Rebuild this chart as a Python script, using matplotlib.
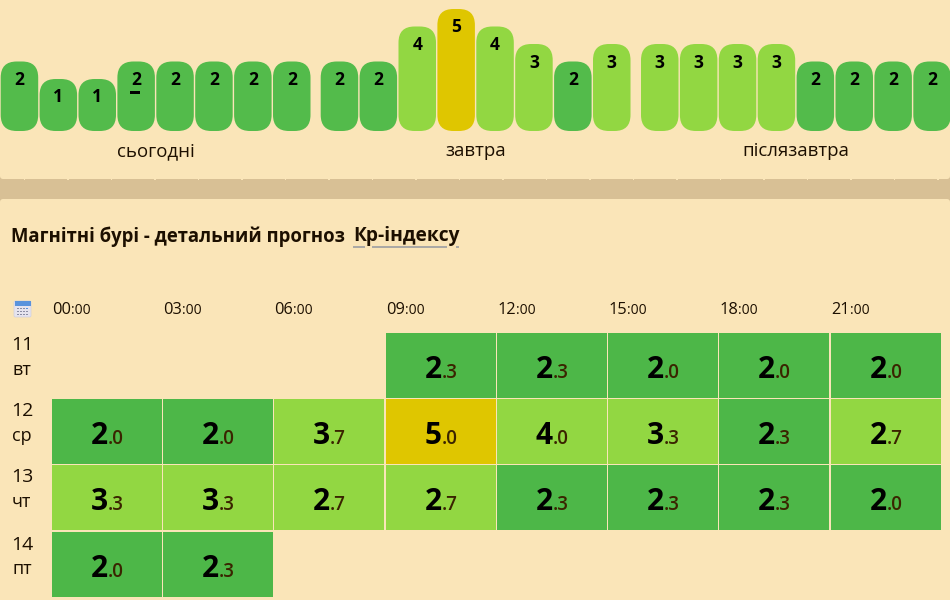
import matplotlib
matplotlib.use("Agg")
import matplotlib.pyplot as plt
from matplotlib.patches import FancyBboxPatch, Rectangle

plt.rcParams['font.family'] = ['Open Sans', 'DejaVu Sans']

# forecast bars
day_labels = ["сьогодні", "завтра", "післязавтра"]
bar_values = [2, 1, 1, 2, 2, 2, 2, 2,
              2, 2, 4, 5, 4, 3, 2, 3,
              3, 3, 3, 3, 2, 2, 2, 2]

# detail table
hours = ["00", "03", "06", "09", "12", "15", "18", "21"]
row_days = ["11", "12", "13", "14"]
row_names = ["вт", "ср", "чт", "пт"]
row_11 = [None, None, None, 2.3, 2.3, 2.0, 2.0, 2.0]
row_12 = [2.0, 2.0, 3.7, 5.0, 4.0, 3.3, 2.3, 2.7]
row_13 = [3.3, 3.3, 2.7, 2.7, 2.3, 2.3, 2.3, 2.0]
row_14 = [2.0, 2.3, None, None, None, None, None, None]
title = "Магнітні бурі - детальний прогноз"
title_link = "Кр-індексу"

BG = "#fae5b8"
TAN = "#d8c095"
INK = "#1c0f00"


def bar_color(v):
    if v >= 5:
        return "#dfc600"
    if v >= 3:
        return "#92d742"
    return "#53bb4b"


def cell_color(v):
    if v >= 5:
        return "#dfc600"
    if v >= 2.7:
        return "#92d742"
    return "#4db748"


fig = plt.figure(figsize=(9.5, 6), dpi=100, facecolor=BG)
ax = fig.add_axes([0, 0, 1, 1])
ax.set_xlim(0, 950)
ax.set_ylim(600, 0)
ax.axis("off")

# tan separator band, the two page panels sit on top of it with rounded corners
ax.add_patch(Rectangle((0, 172), 950, 34, fc=TAN, ec="none"))
for y0, y1 in [(-20, 179), (199, 620)]:
    ax.add_patch(FancyBboxPatch((3, y0 + 3), 944, y1 - y0 - 6,
                                boxstyle="round,pad=3,rounding_size=3",
                                fc=BG, ec="none"))
for i in range(22):
    ax.add_patch(Rectangle((23.5 + i * 43.5, 179), 1.5, 1, fc=BG, ec="none"))

# top bars, 39 px pitch inside each of the three day groups
group_left = [0.7, 320.7, 641]
for i, v in enumerate(bar_values):
    g = i // 8
    x = group_left[g] + (i % 8) * 38.9
    top = 131 - (34.5 + 17.5 * v)
    w, r = 37.5, 16
    ax.add_patch(FancyBboxPatch((x + r, top + r), w - 2 * r, 131 - top - 2 * r,
                                boxstyle=f"round,pad={r},rounding_size={r}",
                                fc=bar_color(v), ec="none"))
    ax.text(x + w / 2, top + 18.5, str(v), ha="center", va="center", fontsize=12.5,
            fontweight="bold", color="black")
    if i == 3:
        ax.add_patch(Rectangle((x + 13, top + 29), 10, 3, fc="black", ec="none"))

for label, x in zip(day_labels, [155.5, 475.5, 796]):
    ax.text(x, 151.5, label, ha="center", va="center", fontsize=13.4, color=INK)

ax.text(11, 236.5, title, ha="left", va="center", fontsize=13.35,
        fontweight="bold", color=INK)
ax.text(353, 236.5, title_link, ha="left", va="center", fontsize=13.8,
        fontweight="bold", color=INK)
for x0, x1 in [(353, 365), (372, 447), (456, 459)]:
    ax.plot([x0, x1], [246.5, 246.5], color="#a3a3a3", lw=1.3, solid_capstyle="butt")

# calendar icon
ax.add_patch(FancyBboxPatch((15, 302), 15, 14, boxstyle="round,pad=1,rounding_size=1.5",
                            fc="#e6e4ee", ec="#cfcfe0", lw=0.5))
ax.add_patch(Rectangle((14.5, 301), 16, 4.5, fc="#5a93dc", ec="none"))
for ix in range(4):
    for iy in range(3):
        c = "#5a93dc" if (ix == 3 and iy == 0) else "#8d8fa5"
        ax.add_patch(Rectangle((17 + ix * 3, 307.5 + iy * 3), 2, 1.8, fc=c, ec="none"))

# table
col_left = [52, 163, 274, 386, 497, 608, 719, 831]
col_w = 110
row_top = [333, 399, 465, 532]
row_h = 65
renderer = fig.canvas.get_renderer()
for x, h in zip(col_left, hours):
    a = ax.text(x, 310, h, ha="left", va="center", fontsize=11.8, color=INK)
    bb = a.get_window_extent(renderer)
    ax.text(bb.x1, 310.5, ":00", ha="left", va="center", fontsize=10, color=INK)

rows = [row_11, row_12, row_13, row_14]
for y, day, name, row in zip(row_top, row_days, row_names, rows):
    ax.text(11, y + 12.5, day, ha="left", va="center", fontsize=14, color=INK)
    ax.text(12, y + 37, name, ha="left", va="center", fontsize=13, color=INK)
    for x, v in zip(col_left, row):
        if v is None:
            continue
        ax.add_patch(Rectangle((x, y), col_w, row_h, fc=cell_color(v), ec="none"))
        whole, frac = f"{v:.1f}".split(".")
        ax.text(x + 55.5, y + 45, whole, ha="right", va="baseline", fontsize=21.5,
                fontweight="bold", color="black")
        ax.text(x + 55.5, y + 45, "." + frac, ha="left", va="baseline", fontsize=13.5,
                fontweight=600, color="#3a2400")

fig.savefig("out.png", dpi=100, facecolor=BG)
